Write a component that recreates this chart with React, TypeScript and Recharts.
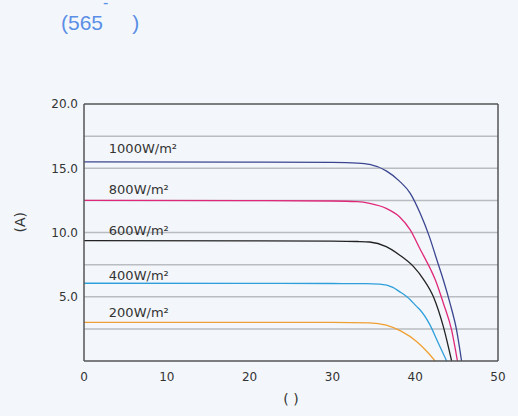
import React from "react";
import {
  LineChart,
  Line,
  XAxis,
  YAxis,
  ReferenceLine,
  ReferenceDot,
} from "recharts";

// I-V curves: [voltage V, current A]
const curve1000 = [
  [0, 15.5], [20, 15.48], [30, 15.45], [33, 15.4], [34.5, 15.3], [36.5, 14.8],
  [38.1, 14.0], [39.4, 13.05], [40.6, 11.5], [41.7, 9.7], [42.6, 7.9],
  [43.4, 6.3], [44.2, 4.5], [45.0, 2.4], [45.6, 0],
];
const curve800 = [
  [0, 12.5], [20, 12.48], [30, 12.45], [33, 12.4], [34.5, 12.27], [36.5, 11.88],
  [38.1, 11.23], [39.4, 10.2], [40.6, 8.7], [41.9, 7.08], [42.4, 6.36],
  [43.4, 4.5], [44.4, 2.4], [45.1, 0],
];
const curve600 = [
  [0, 9.36], [20, 9.35], [30, 9.33], [33, 9.3], [34.5, 9.26], [36.5, 8.9],
  [38.1, 8.25], [39.8, 7.34], [41.0, 6.36], [42.2, 5.0], [43.4, 2.67], [44.4, 0],
];
const curve400 = [
  [0, 6.05], [20, 6.04], [30, 6.03], [34, 6.02], [35.7, 5.98], [37.3, 5.73],
  [38.1, 5.4], [39.0, 5.0], [40.2, 4.23], [40.6, 3.97], [41.75, 2.85],
  [42.8, 1.38], [43.8, 0],
];
const curve200 = [
  [0, 3.01], [20, 3.0], [30, 3.0], [34.5, 2.97], [36.5, 2.8], [38.3, 2.32],
  [40.2, 1.5], [41.5, 0.68], [42.4, 0],
];

const seriesNames = ["1000W/m²", "800W/m²", "600W/m²", "400W/m²", "200W/m²"];
const seriesColors = ["#3b4590", "#e0287a", "#222222", "#2f9fdc", "#f0a033"];
const labelY = [16.55, 13.35, 10.15, 6.7, 3.8];
const labelX = 3;

const xTicks = [0, 10, 20, 30, 40, 50];
const yTicks = [5, 10, 15, 20];
const gridValues = [2.5, 5, 7.5, 10, 12.5, 15, 17.5];

const allCurves = [curve1000, curve800, curve600, curve400, curve200];
const toRows = (c: number[][]) => c.map(([v, i]) => ({ v, i }));

const font = "'DejaVu Sans', sans-serif";
const textColor = "#333333";
const titleFont = "'Liberation Sans', Arial, sans-serif";

export default function App() {
  return (
    <div
      style={{
        position: "absolute",
        left: 0,
        top: 0,
        width: 518,
        height: 416,
        background: "#f3f7fb",
        fontFamily: font,
        overflow: "hidden",
      }}
    >
      <div
        style={{
          position: "absolute",
          left: 61,
          top: 10,
          fontFamily: titleFont,
          fontSize: 21,
          lineHeight: "26px",
          color: "#5b8ee6",
          whiteSpace: "pre",
        }}
      >
        {"(565     )"}
      </div>
      <div
        style={{
          position: "absolute",
          left: 103,
          top: 0,
          fontFamily: titleFont,
          fontSize: 16,
          lineHeight: "6px",
          color: "#5b8ee6",
        }}
      >
        -
      </div>
      <LineChart
        width={518}
        height={416}
        margin={{ top: 104, right: 20, bottom: 25, left: 40 }}
      >
        {gridValues.map((g) => (
          <ReferenceLine key={g} y={g} stroke="#b9bcc0" strokeWidth={1.5} />
        ))}
        <ReferenceLine y={20} stroke="#555555" strokeWidth={1.5} />
        <ReferenceLine x={50} stroke="#555555" strokeWidth={1.5} />
        <XAxis
          type="number"
          dataKey="v"
          domain={[0, 50]}
          ticks={xTicks}
          tickLine={false}
          axisLine={{ stroke: "#555555", strokeWidth: 1.5 }}
          tick={{ fill: textColor, fontSize: 12, fontFamily: font, dy: 3 }}
          height={30}
          allowDuplicatedCategory={false}
          label={{
            value: "( )",
            position: "insideBottom",
            offset: -13,
            fill: textColor,
            fontSize: 14,
            fontFamily: font,
          }}
        />
        <YAxis
          type="number"
          dataKey="i"
          domain={[0, 20]}
          ticks={yTicks}
          tickFormatter={(t: number) => t.toFixed(1)}
          tickLine={false}
          axisLine={{ stroke: "#555555", strokeWidth: 1.5 }}
          tick={{ fill: textColor, fontSize: 12, fontFamily: font, dx: 2 }}
          width={44}
          label={{
            value: "(A)",
            angle: -90,
            position: "insideLeft",
            offset: -20,
            fill: textColor,
            fontSize: 14,
            fontFamily: font,
          }}
        />
        {allCurves.map((c, k) => (
          <Line
            key={seriesNames[k]}
            data={toRows(c)}
            dataKey="i"
            type="monotone"
            stroke={seriesColors[k]}
            strokeWidth={1.3}
            dot={false}
            isAnimationActive={false}
          />
        ))}
        {seriesNames.map((n, k) => (
          <ReferenceDot
            key={n}
            x={labelX}
            y={labelY[k]}
            r={0}
            stroke="none"
            fill="none"
            label={{
              value: n,
              position: "right",
              offset: 0,
              fill: textColor,
              fontSize: 13,
              fontFamily: font,
            }}
          />
        ))}
      </LineChart>
    </div>
  );
}
